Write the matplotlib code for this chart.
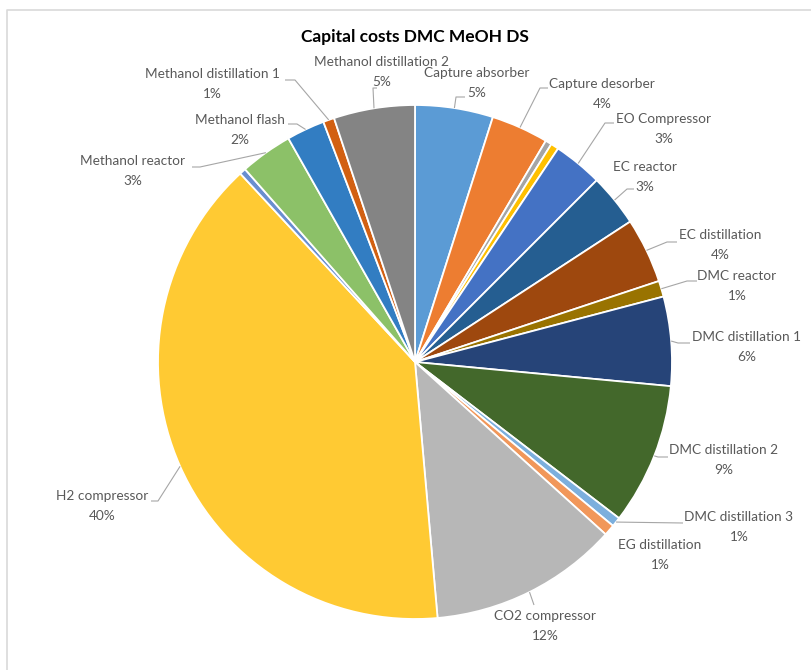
import numpy as np
import matplotlib
matplotlib.use("Agg")
import matplotlib.pyplot as plt
from matplotlib.lines import Line2D

# capital cost shares (%), clockwise from 12 o'clock
names = ["Capture absorber", "Capture desorber", "", "", "EO Compressor",
         "EC reactor", "EC distillation", "DMC reactor", "DMC distillation 1",
         "DMC distillation 2", "DMC distillation 3", "EG distillation",
         "CO2 compressor", "H2 compressor", "", "Methanol reactor",
         "Methanol flash", "Methanol distillation 1", "Methanol distillation 2"]
values = [4.9, 3.6, 0.4, 0.5, 3.1,
          3.3, 4.1, 1.0, 5.6,
          8.9, 0.6, 0.7,
          11.9, 39.5, 0.4, 3.3,
          2.4, 0.7, 5.1]
colors = ["#5B9BD5", "#ED7D31", "#A5A5A5", "#FFC000", "#4472C4",
          "#255E91", "#9E480E", "#997300", "#264478",
          "#43682B", "#7CAFDD", "#F1975A",
          "#B7B7B7", "#FFCA33", "#698ED0", "#8CC168",
          "#327DC2", "#D26012", "#848484"]

W, H = 812, 670
CX, CY, R = 415, 362, 257


def py(y):
    return H - y


# label layout in image pixels: text centre, leader elbow, leader end
layout = {
    "Capture absorber": ((477, 83), (456, 97), (465, 97)),
    "Capture desorber": ((602, 94), (540, 88), (548, 88)),
    "EO Compressor": ((664, 129), (605, 123), (614, 123)),
    "EC reactor": ((645, 177), (627, 189), (634, 189)),
    "EC distillation": ((720, 245), (667, 242), (677, 242)),
    "DMC reactor": ((737, 286), (687, 281), (697, 281)),
    "DMC distillation 1": ((747, 347), (678, 343), (690, 343)),
    "DMC distillation 2": ((724, 460), (658, 457), (668, 457)),
    "DMC distillation 3": ((739, 527), (683, 523), (683, 523)),
    "EG distillation": ((660, 555), None, None),
    "CO2 compressor": ((545, 626), (534, 605), (534, 605)),
    "H2 compressor": ((102, 506), (158, 501), (151, 501)),
    "Methanol reactor": ((133, 171), (200, 167), (192, 167)),
    "Methanol flash": ((240, 130), (297, 124), (288, 124)),
    "Methanol distillation 1": ((212, 84), (295, 80), (285, 80)),
    "Methanol distillation 2": ((382, 72), (373, 88), (377, 88)),
}

plt.rcParams['font.family'] = ['Lato', 'DejaVu Sans']

fig = plt.figure(figsize=(W / 100, H / 100), dpi=100)
ax = fig.add_axes([0, 0, 1, 1])

wedges, _ = ax.pie(values, colors=colors, startangle=90, counterclock=False,
                   center=(CX, py(CY)), radius=R,
                   wedgeprops=dict(edgecolor="white", linewidth=1.3))
ax.set_xlim(0, W)
ax.set_ylim(0, H)
ax.set_aspect("equal")
ax.axis("off")

total = sum(values)
line_col = "#A6A6A6"
for w, name, v in zip(wedges, names, values):
    if not name:
        continue
    (tx, ty), elbow, end = layout[name]
    ax.text(tx, py(ty), f"{name}\n{round(v / total * 100):.0f}%",
            ha="center", va="center", ma="center", fontsize=9.8,
            color="#595959", linespacing=1.75)
    if elbow is None:
        continue
    mid = np.deg2rad((w.theta1 + w.theta2) / 2)
    sx = CX + R * np.cos(mid)
    sy = py(CY) + R * np.sin(mid)
    ax.plot([sx, elbow[0], end[0]], [sy, py(elbow[1]), py(end[1])],
            color=line_col, lw=0.8, solid_capstyle="butt")

fig.text(415 / W, 1 - 37 / H, "Capital costs DMC MeOH DS", ha="center",
         va="center", fontsize=12.5, fontweight="bold", color="#000000")

# chart frame
fig.add_artist(Line2D([7 / W, 7 / W, 1], [0, 1 - 10 / H, 1 - 10 / H],
                      transform=fig.transFigure, color="#D9D9D9", lw=1.2))

fig.savefig("out.png", dpi=100)
